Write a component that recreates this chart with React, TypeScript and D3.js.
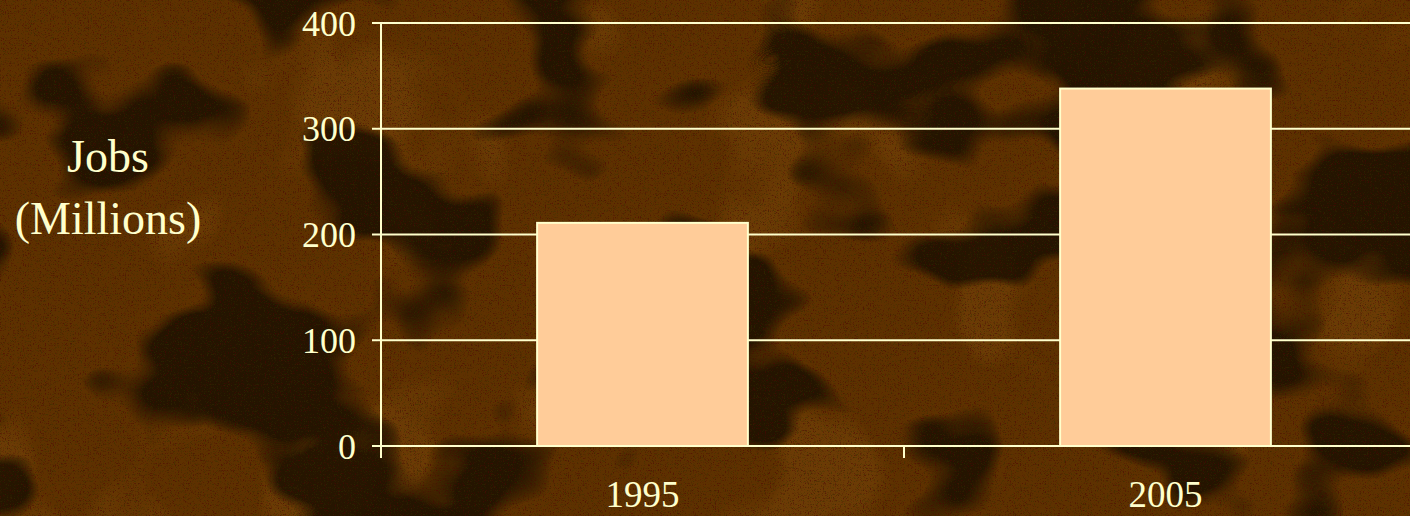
import React, { useEffect, useRef } from "react";
import * as d3 from "d3";

const categories = ["1995", "2005"];
const jobs = [211, 338];
const yTicks = [0, 100, 200, 300, 400];

const W = 1410;
const H = 516;

export default function App() {
  const ref = useRef<SVGSVGElement>(null);

  useEffect(() => {
    const svg = d3.select(ref.current);
    svg.selectAll("*").remove();

    const defs = svg.append("defs");
    const mk = (id: string) =>
      defs.append("filter").attr("id", id).attr("x", 0).attr("y", 0).attr("width", "100%").attr("height", "100%")
        .attr("color-interpolation-filters", "sRGB");
    const f1 = mk("darkBlobs");
    f1.append("feTurbulence").attr("type", "fractalNoise").attr("baseFrequency", "0.005 0.007").attr("numOctaves", 3).attr("seed", 7);
    f1.append("feColorMatrix").attr("type", "matrix")
      .attr("values", "0 0 0 0 0.10  0 0 0 0 0.06  0 0 0 0 0.0  -12 0 0 0 6.0");
    const f2 = mk("lightBlobs");
    f2.append("feTurbulence").attr("type", "fractalNoise").attr("baseFrequency", "0.006 0.005").attr("numOctaves", 3).attr("seed", 21);
    f2.append("feColorMatrix").attr("type", "matrix")
      .attr("values", "0 0 0 0 0.50  0 0 0 0 0.30  0 0 0 0 0.05  0 10 0 0 -5.6");
    const f3 = mk("grain");
    f3.append("feTurbulence").attr("type", "turbulence").attr("baseFrequency", "0.6").attr("numOctaves", 1).attr("seed", 4);
    f3.append("feColorMatrix").attr("type", "matrix")
      .attr("values", "0 0 0 0 0.30  0 0 0 0 0.02  0 0 0 0 0.02  4 0 0 0 -1.0");
    const f4 = mk("grain2");
    f4.append("feTurbulence").attr("type", "turbulence").attr("baseFrequency", "0.7").attr("numOctaves", 1).attr("seed", 11);
    f4.append("feColorMatrix").attr("type", "matrix")
      .attr("values", "0 0 0 0 0.20  0 0 0 0 0.20  0 0 0 0 0.0  4 0 0 0 -1.0");

    svg.append("rect").attr("width", W).attr("height", H).attr("fill", "#5e3100");
    svg.append("rect").attr("width", W).attr("height", H).attr("filter", "url(#lightBlobs)").attr("opacity", 0.4);
    svg.append("rect").attr("width", W).attr("height", H).attr("filter", "url(#darkBlobs)").attr("opacity", 0.85);
    svg.append("rect").attr("width", W).attr("height", H).attr("filter", "url(#grain)").attr("opacity", 0.55);
    svg.append("rect").attr("width", W).attr("height", H).attr("filter", "url(#grain2)").attr("opacity", 0.45);

    const left = 381;
    const right = 1427;
    const top = 23;
    const bottom = 446;

    const x = d3.scaleBand<string>().domain(categories).range([left, right]).padding(0);
    const y = d3.scaleLinear().domain([0, 400]).range([bottom, top]);
    const barW = x.bandwidth() * 0.403;

    const line = "#ffffcc";
    const font = "'Liberation Serif', 'DejaVu Serif', serif";

    svg.append("g").selectAll("line").data(yTicks).join("line")
      .attr("x1", left - 9).attr("x2", right)
      .attr("y1", (d) => y(d)).attr("y2", (d) => y(d))
      .attr("stroke", line).attr("stroke-width", 2);

    svg.append("g").selectAll("rect").data(jobs).join("rect")
      .attr("x", (_, i) => (x(categories[i]) as number) + x.bandwidth() / 2 - barW / 2)
      .attr("y", (d) => y(d))
      .attr("width", barW)
      .attr("height", (d) => y(0) - y(d))
      .attr("fill", "#ffcc99")
      .attr("stroke", line).attr("stroke-width", 2);

    svg.append("line").attr("x1", left).attr("x2", left).attr("y1", top).attr("y2", bottom + 12)
      .attr("stroke", line).attr("stroke-width", 2);
    const sepTicks = categories.slice(1).map((c) => x(c) as number);
    svg.append("g").selectAll("line").data(sepTicks).join("line")
      .attr("x1", (d) => d).attr("x2", (d) => d).attr("y1", bottom).attr("y2", bottom + 12)
      .attr("stroke", line).attr("stroke-width", 2);

    svg.append("g").selectAll("text").data(yTicks).join("text")
      .attr("x", 356).attr("y", (d) => y(d))
      .attr("dy", "0.35em")
      .attr("text-anchor", "end")
      .attr("fill", line)
      .attr("font-family", font).attr("font-size", 36)
      .text((d) => d);

    svg.append("g").selectAll("text").data(categories).join("text")
      .attr("x", (d) => (x(d) as number) + x.bandwidth() / 2)
      .attr("y", 507)
      .attr("text-anchor", "middle")
      .attr("fill", line)
      .attr("font-family", font).attr("font-size", 37)
      .text((d) => d);

    const t = svg.append("text").attr("text-anchor", "middle").attr("fill", line)
      .attr("font-family", font).attr("font-size", 46);
    t.append("tspan").attr("x", 108).attr("y", 172).text("Jobs");
    t.append("tspan").attr("x", 108).attr("y", 234).text("(Millions)");
  }, []);

  return (
    <svg ref={ref} width={W} height={H} style={{ position: "absolute", left: 0, top: 0, display: "block" }} />
  );
}
